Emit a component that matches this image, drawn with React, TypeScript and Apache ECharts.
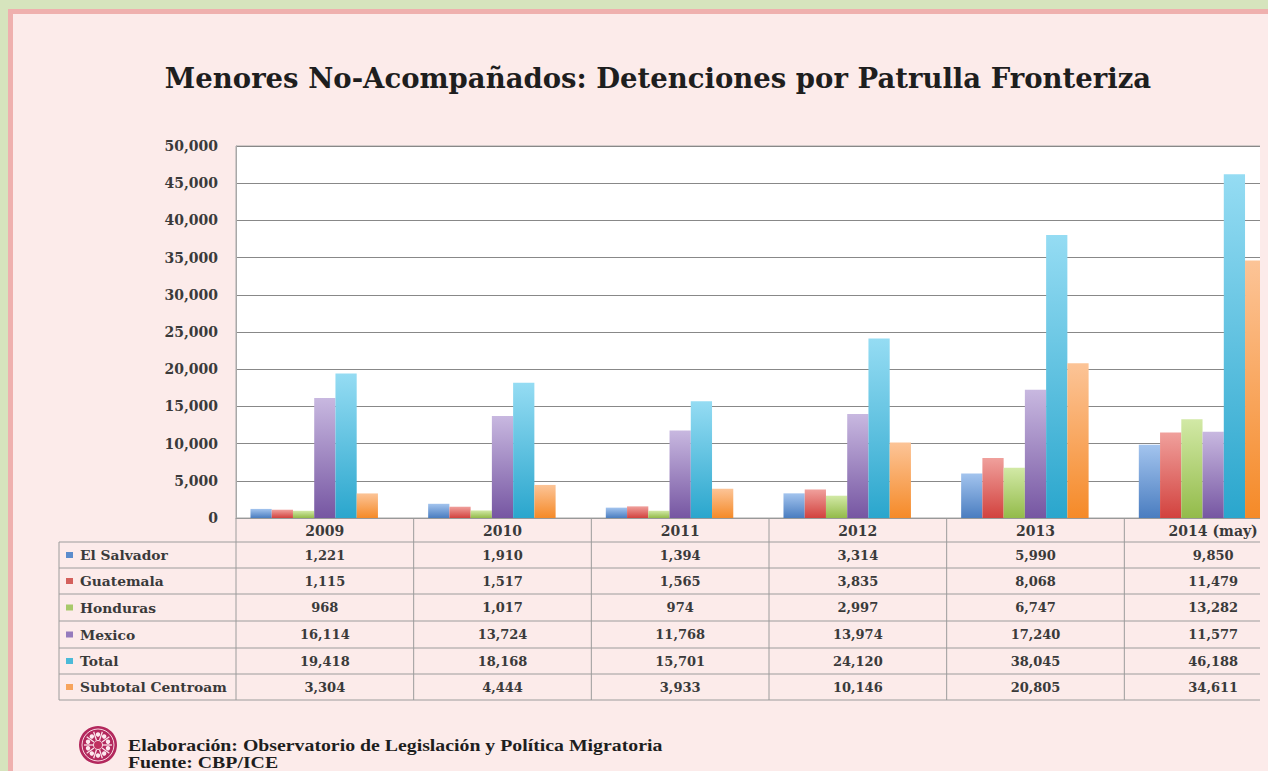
import React, { useEffect, useRef } from "react";
import * as echarts from "echarts";

const years = ["2009", "2010", "2011", "2012", "2013", "2014 (may)"];
const seriesNames = ["El Salvador", "Guatemala", "Honduras", "Mexico", "Total", "Subtotal Centroam"];
const elSalvador = [1221, 1910, 1394, 3314, 5990, 9850];
const guatemala = [1115, 1517, 1565, 3835, 8068, 11479];
const honduras = [968, 1017, 974, 2997, 6747, 13282];
const mexico = [16114, 13724, 11768, 13974, 17240, 11577];
const total = [19418, 18168, 15701, 24120, 38045, 46188];
const subtotal = [3304, 4444, 3933, 10146, 20805, 34611];
const seriesData = [elSalvador, guatemala, honduras, mexico, total, subtotal];

const yMin = 0;
const yMax = 50000;
const yStep = 5000;

const title = "Menores No-Acompañados: Detenciones por Patrulla Fronteriza";
const footer1 = "Elaboración: Observatorio de Legislación y Política Migratoria";
const footer2 = "Fuente: CBP/ICE";

const gradients: [string, string, string][] = [
  ["#a3c4ee", "#4a7dc0", "#5b8ccc"],
  ["#f0a09c", "#d2423e", "#d4605c"],
  ["#d2e9a6", "#93bb4a", "#a8c96a"],
  ["#c8b8e0", "#7656a2", "#957bbd"],
  ["#95dcf3", "#2aa6cd", "#4cbad8"],
  ["#fcc497", "#f58a28", "#f7a45c"],
];

const SERIF = "DejaVu Serif";
const TXT = "#3a3a3a";

const fmt = (v: number) => v.toLocaleString("en-US");

export default function App() {
  const ref = useRef<HTMLDivElement>(null);
  useEffect(() => {
    if (!ref.current) return;
    const chart = echarts.init(ref.current, null, { renderer: "svg" });
    const series: any[] = seriesData.map((d, i) => ({
      name: seriesNames[i],
      type: "bar",
      data: d,
      barGap: "0%",
      barCategoryGap: "16.3%",
      itemStyle: {
        color: new echarts.graphic.LinearGradient(0, 0, 0, 1, [
          { offset: 0, color: gradients[i][0] },
          { offset: 1, color: gradients[i][1] },
        ]),
      },
    }));
    series.push({
      name: "_pad",
      type: "bar",
      data: years.map(() => 0),
      barGap: "0%",
      barCategoryGap: "16.3%",
      itemStyle: { color: "rgba(0,0,0,0)" },
      silent: true,
    });
    chart.setOption({
      animation: false,
      backgroundColor: "transparent",
      grid: {
        left: 236,
        top: 146,
        width: 1066,
        height: 372,
        show: true,
        backgroundColor: "#ffffff",
        borderColor: "#a8a8a8",
        borderWidth: 1,
      },
      xAxis: {
        type: "category",
        data: years,
        axisLine: { show: true, lineStyle: { color: "#999", width: 1 } },
        axisTick: { show: false },
        axisLabel: {
          fontFamily: SERIF,
          fontWeight: "bold",
          fontSize: 14,
          color: TXT,
          margin: 6,
        },
      },
      yAxis: {
        type: "value",
        min: yMin,
        max: yMax,
        interval: yStep,
        axisLine: { show: true, lineStyle: { color: "#a8a8a8" } },
        axisTick: { show: false },
        splitLine: { lineStyle: { color: "#888888", width: 1.2 } },
        axisLabel: {
          fontFamily: SERIF,
          fontWeight: "bold",
          fontSize: 14,
          color: TXT,
          margin: 18,
          formatter: (v: number) => fmt(v),
        },
      },
      series,
    });

    const cx = years.map((y) => chart.convertToPixel({ xAxisIndex: 0 }, y) as number);
    const band = cx[1] - cx[0];
    const lineColor = "#9c9c9c";
    const rowLines = [542, 568, 594, 621, 648, 674, 700];
    const tableLeft = 59;
    const tableRight = cx[cx.length - 1] + band / 2;
    const g: any[] = [];
    // title
    g.push({
      type: "text",
      x: 658,
      y: 78,
      style: {
        text: title,
        font: `bold 27.5px "${SERIF}"`,
        fill: "#1e1e1e",
        textAlign: "center",
        textVerticalAlign: "middle",
      },
    });
    // table lines
    rowLines.forEach((y) => {
      g.push({
        type: "line",
        shape: { x1: tableLeft, y1: y, x2: tableRight, y2: y },
        style: { stroke: lineColor, lineWidth: 1 },
      });
    });
    g.push({
      type: "line",
      shape: { x1: tableLeft, y1: rowLines[0], x2: tableLeft, y2: rowLines[rowLines.length - 1] },
      style: { stroke: lineColor, lineWidth: 1 },
    });
    cx.forEach((c) => {
      const xl = c - band / 2;
      g.push({
        type: "line",
        shape: { x1: xl, y1: 518, x2: xl, y2: rowLines[rowLines.length - 1] },
        style: { stroke: lineColor, lineWidth: 1 },
      });
    });
    // rows
    seriesNames.forEach((name, r) => {
      const yc = (rowLines[r] + rowLines[r + 1]) / 2;
      g.push({
        type: "rect",
        shape: { x: 66, y: yc - 3, width: 7, height: 6 },
        style: { fill: gradients[r][2] },
      });
      g.push({
        type: "text",
        x: 80,
        y: yc,
        style: {
          text: name,
          font: `bold 13.8px "${SERIF}"`,
          fill: TXT,
          textAlign: "left",
          textVerticalAlign: "middle",
        },
      });
      seriesData[r].forEach((v, i) => {
        g.push({
          type: "text",
          x: cx[i],
          y: yc,
          style: {
            text: fmt(v),
            font: `bold 13px "${SERIF}"`,
            fill: TXT,
            textAlign: "center",
            textVerticalAlign: "middle",
          },
        });
      });
    });
    // logo
    const logo: any[] = [
      { type: "circle", shape: { cx: 0, cy: 0, r: 19 }, style: { fill: "#b3285d" } },
      { type: "circle", shape: { cx: 0, cy: 0, r: 16 }, style: { fill: "none", stroke: "#f7d6e0", lineWidth: 1 } },
    ];
    for (let k = 0; k < 10; k++) {
      const a = (k / 10) * Math.PI * 2;
      logo.push({
        type: "line",
        shape: { x1: Math.cos(a) * 5, y1: Math.sin(a) * 5, x2: Math.cos(a) * 14, y2: Math.sin(a) * 14 },
        style: { stroke: "#fbe3ea", lineWidth: 1.3 },
      });
      logo.push({
        type: "circle",
        shape: { cx: Math.cos(a + Math.PI / 10) * 10.5, cy: Math.sin(a + Math.PI / 10) * 10.5, r: 2.2 },
        style: { fill: "#fde9ef" },
      });
    }
    logo.push({ type: "circle", shape: { cx: 0, cy: 0, r: 4.5 }, style: { fill: "#c0305f", stroke: "#fbe3ea", lineWidth: 1 } });
    g.push({ type: "group", x: 98, y: 745, children: logo });
    g.push({
      type: "text",
      x: 128,
      y: 746,
      scaleX: 1.2,
      style: {
        text: footer1,
        font: 'bold 16.5px "Liberation Serif"',
        fill: "#1e1e1e",
        textAlign: "left",
        textVerticalAlign: "middle",
      },
    });
    g.push({
      type: "text",
      x: 128,
      y: 763,
      scaleX: 1.2,
      style: {
        text: footer2,
        font: 'bold 16.5px "Liberation Serif"',
        fill: "#1e1e1e",
        textAlign: "left",
        textVerticalAlign: "middle",
      },
    });
    chart.setOption({ graphic: { elements: g } });
    return () => chart.dispose();
  }, []);

  return (
    <div style={{ position: "absolute", left: 0, top: 0, width: 1268, height: 771, overflow: "hidden", background: "#d6e4bd" }}>
      <div
        style={{
          position: "absolute",
          left: 8,
          top: 9,
          width: 1260,
          height: 762,
          boxSizing: "border-box",
          borderLeft: "5px solid #efb0ae",
          borderTop: "5px solid #efb0ae",
          background: "#fcebea",
        }}
      />
      <div style={{ position: "absolute", left: 0, top: 0, width: 1260, height: 771, overflow: "hidden" }}>
        <div ref={ref} style={{ position: "absolute", left: 0, top: 0, width: 1310, height: 771 }} />
      </div>
    </div>
  );
}
